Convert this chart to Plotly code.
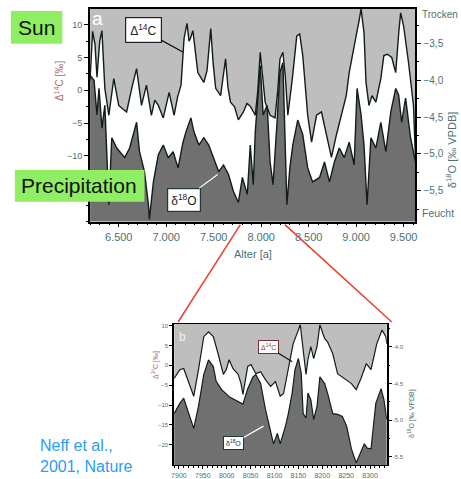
import plotly.graph_objects as go

W, H = 461, 479

# ---------------- DATA ----------------
# Panel a: Delta14C (permil) vs age (years)
a_c14_years = [6198, 6225, 6250, 6271, 6300, 6323, 6354, 6396, 6448, 6500, 6540, 6583, 6640,
               6688, 6740, 6792, 6844, 6880, 6917, 6969, 7031, 7083, 7120, 7156, 7188, 7219,
               7240, 7255, 7281, 7310, 7333, 7396, 7430, 7469, 7495, 7521, 7573, 7625, 7650,
               7677, 7720, 7760, 7813, 7850, 7885, 7938, 7965, 7990, 8010, 8042, 8094, 8146,
               8175, 8198, 8229, 8255, 8281, 8330, 8375, 8406, 8438, 8490, 8531, 8583, 8635,
               8688, 8740, 8792, 8844, 8896, 8927, 8960, 9000, 9030, 9052, 9083, 9104, 9135,
               9167, 9208, 9260, 9292, 9330, 9375, 9417, 9450, 9469, 9500, 9552, 9604, 9625]
a_c14 = [1.5, 9.0, 7.0, 2.0, 7.5, 9.1, 0.3, -3.8, 1.8, -2.3, -2.8, -3.3, 0.5,
         3.3, -2.3, 0.8, -3.8, -1.5, -2.3, -4.2, -0.3, -3.8, -1.0, 0.8, 7.9, 10.2,
         7.5, 7.9, 9.1, 5.0, 2.7, 1.2, 3.0, 9.4, 4.0, 0.3, -0.8, 4.8, 0.5,
         -1.8, -2.5, -4.5, -3.3, -2.0, -2.4, -3.8, 0.0, 5.8, 3.0, -1.8, -3.8, -4.2,
         0.0, 4.8, 5.8, 2.0, -3.8, 2.0, 8.3, 8.6, 5.3, -3.8, -7.9, -3.8, -3.3,
         -6.8, -10.2, -6.8, -3.8, -0.8, 2.7, 5.0, 8.3, 10.5, 12.4, 8.8, 1.2, -2.3,
         -0.8, -1.8, 1.8, 5.3, 5.5, 5.0, 2.7, 9.0, 11.8, 9.8, 4.2, -2.3, -10.5]

# Panel a: delta18O (permil VPDB) vs age (years)
a_o18_years = [6198, 6240, 6271, 6292, 6323, 6354, 6396, 6427, 6479, 6510, 6563, 6615, 6688,
               6719, 6771, 6813, 6823, 6865, 6917, 6969, 7021, 7073, 7125, 7177, 7208, 7260,
               7292, 7344, 7396, 7448, 7500, 7552, 7604, 7656, 7708, 7760, 7802, 7854, 7885,
               7917, 7938, 7969, 7990, 8021, 8063, 8094, 8125, 8167, 8198, 8229, 8250, 8271,
               8302, 8333, 8385, 8438, 8490, 8542, 8615, 8667, 8719, 8771, 8823, 8875, 8927,
               8979, 9010, 9052, 9083, 9115, 9156, 9208, 9260, 9313, 9365, 9417, 9448, 9479,
               9521, 9573, 9625]
a_o18 = [-3.93, -4.00, -4.47, -4.11, -4.65, -4.34, -5.69, -4.78, -4.92, -4.97, -5.05, -4.92, -4.57,
         -4.97, -5.24, -5.69, -5.89, -5.38, -5.01, -4.88, -5.05, -4.97, -5.19, -4.84, -4.70, -4.51,
         -4.70, -4.88, -4.78, -4.88, -5.05, -5.24, -5.15, -5.28, -5.51, -5.66, -5.32, -5.55, -4.88,
         -5.42, -4.70, -4.11, -3.80, -4.47, -4.34, -5.11, -5.42, -4.57, -3.89, -3.76, -4.78, -5.69,
         -5.19, -4.88, -4.54, -4.74, -5.19, -5.38, -5.32, -5.11, -5.38, -5.11, -4.92, -5.05, -4.84,
         -5.15, -4.11, -4.47, -4.88, -5.69, -4.78, -4.92, -4.57, -4.97, -4.43, -4.11, -4.20, -4.57,
         -4.24, -4.78, -5.11]

# Panel b: high resolution section
b_c14_years = [7890, 7902, 7910, 7921, 7931, 7941, 7952, 7962, 7972, 7982, 7993, 7999, 8005,
               8013, 8024, 8030, 8034, 8044, 8051, 8061, 8071, 8081, 8092, 8102, 8112, 8119,
               8129, 8139, 8147, 8154, 8160, 8166, 8170, 8176, 8182, 8189, 8195, 8205, 8211,
               8222, 8232, 8246, 8261, 8271, 8281, 8292, 8302, 8314, 8325, 8333, 8335]
b_c14 = [-3.3, -1.1, -0.8, -4.6, -7.8, -1.1, 7.2, 8.4, 7.2, 2.9, -2.3, -1.1, 1.4,
         -0.8, -2.3, -4.6, -7.3, -0.3, 0.2, -2.1, -1.6, -3.6, -5.3, -4.1, -7.8, -7.1,
         -1.1, 5.4, 7.9, 10.2, 3.9, -2.3, 1.4, 4.7, 1.7, 4.7, 10.2, 6.7, 5.9,
         2.9, -2.1, -3.3, -4.6, -6.1, -3.3, 0.4, -1.1, 5.4, 8.9, 7.2, 5.4]

b_o18_years = [7890, 7902, 7910, 7916, 7927, 7931, 7941, 7952, 7962, 7972, 7978, 7989, 8005,
               8024, 8034, 8044, 8055, 8061, 8071, 8081, 8092, 8098, 8106, 8112, 8123, 8129,
               8137, 8143, 8150, 8156, 8160, 8166, 8170, 8176, 8182, 8189, 8195, 8205, 8211,
               8222, 8232, 8242, 8251, 8261, 8271, 8277, 8288, 8294, 8302, 8312, 8323, 8329, 8335]
b_o18 = [-4.91, -4.77, -4.70, -4.81, -5.04, -5.11, -4.81, -4.38, -4.18, -4.27, -4.47, -4.58, -4.68,
         -4.74, -4.78, -4.57, -4.41, -4.38, -4.50, -4.85, -5.15, -5.32, -5.18, -5.32, -5.08, -4.91,
         -4.63, -4.31, -4.16, -4.36, -4.91, -4.97, -4.63, -4.72, -4.99, -4.81, -4.41, -4.50, -4.63,
         -4.91, -4.92, -4.95, -5.08, -5.39, -5.58, -5.49, -5.32, -5.38, -5.39, -4.77, -4.57, -4.72, -4.99]

a_xticks = [6500, 7000, 7500, 8000, 8500, 9000, 9500]
a_c14_ticks = [-10, -5, 0, 5, 10]
a_o18_ticks = [-5.5, -5.0, -4.5, -4.0, -3.5]
b_xticks = [7900, 7950, 8000, 8050, 8100, 8150, 8200, 8250, 8300]
b_c14_ticks = [-20, -15, -10, -5, 0, 5, 10]
b_o18_ticks = [-5.5, -5.0, -4.5, -4.0]

# ---------------- STYLE ----------------
A_X = [6198, 9625]
A_Y = [-20, 12.4]
A_Y2 = [-5.92, -3.03]
B_X = [7890, 8335]
B_Y = [-25.1, 10.4]
B_Y2 = [-5.61, -3.69]

LIGHT = "#bebebe"
DARK = "#707070"
LINE = "#121c1c"
TEAL = "#4a7272"
FONT = "Liberation Sans, Arial, sans-serif"
GREEN = "#8fee62"


def px(x):
    return x / W


def py(y):
    return 1 - y / H


def area_above(xs, ys, top, xa, ya):
    return go.Scatter(x=xs + [xs[-1], xs[0]], y=ys + [top, top], fill="toself",
                      fillcolor=LIGHT, line=dict(width=0), mode="lines",
                      hoverinfo="skip", xaxis=xa, yaxis=ya, showlegend=False)


def area_below(xs, ys, bottom, xa, ya):
    return go.Scatter(x=xs + [xs[-1], xs[0]], y=ys + [bottom, bottom], fill="toself",
                      fillcolor=DARK, line=dict(width=0), mode="lines",
                      hoverinfo="skip", xaxis=xa, yaxis=ya, showlegend=False)


def curve(xs, ys, xa, ya, w=1.4):
    return go.Scatter(x=xs, y=ys, mode="lines", line=dict(color=LINE, width=w),
                      xaxis=xa, yaxis=ya, showlegend=False)


fig = go.Figure()
# panel a
fig.add_trace(area_above(a_c14_years, a_c14, A_Y[1] + 10, "x", "y"))
fig.add_trace(area_below(a_o18_years, a_o18, A_Y2[0] - 1, "x", "y2"))
fig.add_trace(curve(a_o18_years, a_o18, "x", "y2"))
fig.add_trace(curve(a_c14_years, a_c14, "x", "y3"))
# panel b
fig.add_trace(area_above(b_c14_years, b_c14, B_Y[1] + 10, "x2", "y4"))
fig.add_trace(area_below(b_o18_years, b_o18, B_Y2[0] - 1, "x2", "y5"))
fig.add_trace(curve(b_o18_years, b_o18, "x2", "y5", 1.2))
fig.add_trace(curve(b_c14_years, b_c14, "x2", "y6", 1.2))

tick_common = dict(showgrid=False, zeroline=False, ticks="outside", tickcolor="black",
                   tickwidth=1, showline=True, linecolor="black")

fig.update_layout(
    width=W, height=H, autosize=False,
    margin=dict(l=0, r=0, t=0, b=0),
    paper_bgcolor="white", plot_bgcolor="white",
    separators=",.",
    font=dict(family=FONT, color=TEAL),
    xaxis=dict(domain=[px(88), px(417)], anchor="y", range=A_X, tickvals=a_xticks,
               tickformat=",d", ticklen=4, linewidth=1.5, mirror=True,
               tickfont=dict(size=11, color=TEAL),
               minor=dict(ticks="outside", ticklen=2, dtick=100, tick0=0, tickcolor="black"),
               **tick_common),
    yaxis=dict(domain=[py(222), py(8)], anchor="x", range=A_Y, tickvals=a_c14_ticks,
               ticklen=4, linewidth=2, tickfont=dict(size=9, color=TEAL),
               minor=dict(ticks="outside", ticklen=2, dtick=2.5, tick0=0, tickcolor="black"),
               **tick_common),
    yaxis2=dict(overlaying="y", side="right", anchor="x", range=A_Y2, tickvals=a_o18_ticks,
                tickformat=".1f", ticklen=4, linewidth=2, tickfont=dict(size=10, color=TEAL),
                minor=dict(ticks="outside", ticklen=2, dtick=0.25, tick0=0, tickcolor="black"),
                **tick_common),
    yaxis3=dict(overlaying="y", anchor="x", range=A_Y, visible=False),
    xaxis2=dict(domain=[px(173), px(388)], anchor="y4", range=B_X, tickvals=b_xticks,
                tickformat="d", ticklen=3, linewidth=1.2, mirror=True,
                tickfont=dict(size=7, color=TEAL),
                minor=dict(ticks="outside", ticklen=1.5, dtick=10, tick0=0, tickcolor="black"),
                **tick_common),
    yaxis4=dict(domain=[py(467), py(325)], anchor="x2", range=B_Y, tickvals=b_c14_ticks,
                ticklen=3, linewidth=1.5, tickfont=dict(size=6, color=TEAL), **tick_common),
    yaxis5=dict(overlaying="y4", side="right", anchor="x2", range=B_Y2, tickvals=b_o18_ticks,
                ticktext=[f"{v:.1f}" for v in b_o18_ticks], ticklen=3, linewidth=1.5,
                tickfont=dict(size=6, color=TEAL),
                minor=dict(ticks="outside", ticklen=1.5, dtick=0.25, tick0=0, tickcolor="black"),
                **tick_common),
    yaxis6=dict(overlaying="y4", anchor="x2", range=B_Y, visible=False),
)

shapes = [
    # red connector lines
    dict(type="line", xref="paper", yref="paper", x0=px(240), y0=py(225), x1=px(177), y1=py(323),
         line=dict(color="#e8402a", width=1.5)),
    dict(type="line", xref="paper", yref="paper", x0=px(285), y0=py(225), x1=px(393), y1=py(323),
         line=dict(color="#e8402a", width=1.5)),
    # green boxes
    dict(type="rect", xref="paper", yref="paper", x0=px(8), x1=px(60), y0=py(43), y1=py(10),
         fillcolor=GREEN, line=dict(width=0)),
    dict(type="rect", xref="paper", yref="paper", x0=px(12), x1=px(143), y0=py(202), y1=py(170),
         fillcolor=GREEN, line=dict(width=0)),
]

ann = [
    dict(text="Sun", x=px(34), y=py(27), font=dict(size=21, color="#111111")),
    dict(text="Precipitation", x=px(77), y=py(186), font=dict(size=21, color="#111111")),
    dict(text="Neff et al.,<br>2001, Nature", x=px(35), y=py(458), xanchor="left", align="left",
         font=dict(size=16, color="#2a9df4")),
    dict(text="a", x=px(96), y=py(18), font=dict(size=19, color="white")),
    dict(text="b", x=px(181), y=py(338), font=dict(size=12, color="#f2f2f2")),
    dict(text="Trocken", x=px(422), y=py(14), xanchor="left", font=dict(size=10, color=TEAL)),
    dict(text="Feucht", x=px(422), y=py(213), xanchor="left", font=dict(size=10.5, color=TEAL)),
    dict(text="Alter [a]", x=px(253), y=py(255), font=dict(size=11, color=TEAL)),
    dict(text="Δ<sup>14</sup>C [‰]", x=px(57), y=py(80), textangle=-90,
         font=dict(size=10, color="#b06a6a")),
    dict(text="δ<sup>18</sup>O [‰ VPDB]", x=px(453), y=py(150), textangle=-90,
         font=dict(size=11, color=TEAL)),
    dict(text="Δ<sup>14</sup>C [‰]", x=px(154), y=py(366), textangle=-90,
         font=dict(size=7, color="#b06a6a")),
    dict(text="δ<sup>18</sup>O [‰ VPDB]", x=px(413), y=py(415), textangle=-90,
         font=dict(size=7, color=TEAL)),
]
for a in ann:
    a.setdefault("xref", "paper")
    a.setdefault("yref", "paper")
    a.setdefault("xanchor", "center")
    a.setdefault("yanchor", "middle")
    a.setdefault("showarrow", False)

# labelled callouts pointing at curves
callouts = [
    dict(text="Δ<sup>14</sup>C", x=7180, y=5.8, xref="x", yref="y3", ax=-40, ay=-22,
         font=dict(size=12, color="#222222"), arrowcolor="#111111", bordercolor="#222222",
         borderwidth=1.2, borderpad=4),
    dict(text="δ<sup>18</sup>O", x=7542, y=-5.28, xref="x", yref="y2", ax=-34, ay=25,
         font=dict(size=12, color="#222222"), arrowcolor="white", bordercolor="#1f3a3a",
         borderwidth=1.2, borderpad=3),
    dict(text="Δ<sup>14</sup>C", x=8137, y=0.9, xref="x2", yref="y6", ax=-24, ay=-15,
         font=dict(size=7, color="#8a3a3a"), arrowcolor="#111111", bordercolor="#7a3030",
         borderwidth=1, borderpad=2),
    dict(text="δ<sup>18</sup>O", x=8077, y=-5.08, xref="x2", yref="y5", ax=-30, ay=17,
         font=dict(size=7, color="#222222"), arrowcolor="white", bordercolor="#1f3a3a",
         borderwidth=1, borderpad=2),
]
for c in callouts:
    c.update(showarrow=True, arrowhead=0, arrowwidth=1.2, bgcolor="white")
    ann.append(c)

fig.update_layout(shapes=shapes, annotations=ann)
fig.write_html("out.html")
